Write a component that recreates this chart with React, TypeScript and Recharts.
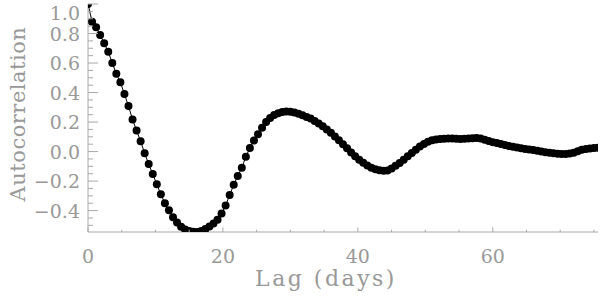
import { LineChart, Line, XAxis, YAxis, Label } from 'recharts';

// sampling cadence of the lag grid (days)
const LAG_STEP = 0.6;

// autocorrelation, one value per lag step starting at 0
const ACF = [
  1.0, 0.88, 0.842, 0.79, 0.734, 0.676, 0.6, 0.527, 0.47, 0.39,
  0.308, 0.218, 0.142, 0.07, -0.012, -0.085, -0.152, -0.222, -0.29, -0.35,
  -0.398, -0.445, -0.48, -0.51, -0.528, -0.538, -0.543, -0.545, -0.538, -0.525,
  -0.508, -0.488, -0.462, -0.42, -0.365, -0.295, -0.225, -0.165, -0.11, -0.035,
  0.025, 0.075, 0.118, 0.162, 0.2, 0.228, 0.248, 0.26, 0.268, 0.272,
  0.27, 0.264, 0.256, 0.246, 0.235, 0.224, 0.208, 0.19, 0.172, 0.15,
  0.128, 0.102, 0.076, 0.05, 0.022, -0.006, -0.032, -0.056, -0.076, -0.095,
  -0.11, -0.12, -0.127, -0.13, -0.128, -0.115, -0.096, -0.077, -0.055, -0.032,
  -0.01, 0.012, 0.035, 0.052, 0.066, 0.076, 0.081, 0.085, 0.087, 0.088,
  0.088, 0.087, 0.086, 0.087, 0.089, 0.091, 0.092, 0.088, 0.08, 0.072,
  0.064, 0.058, 0.052, 0.045, 0.038, 0.032, 0.027, 0.022, 0.018, 0.014,
  0.01, 0.005, 0.0, -0.004, -0.008, -0.012, -0.015, -0.016, -0.016, -0.013,
  -0.008, 0.002, 0.012, 0.018, 0.021, 0.024, 0.026,
];

const X_TICKS = [0, 5, 10, 15, 20, 25, 30, 35, 40, 45, 50, 55, 60, 65, 70, 75];
const X_MAJOR = [0, 20, 40, 60];
const Y_TICKS = [
  -0.5, -0.45, -0.4, -0.35, -0.3, -0.25, -0.2, -0.15, -0.1, -0.05, 0,
  0.05, 0.1, 0.15, 0.2, 0.25, 0.3, 0.35, 0.4, 0.45, 0.5, 0.55, 0.6,
  0.65, 0.7, 0.75, 0.8, 0.85, 0.9, 0.95, 1.0,
];
const Y_MAJOR = [-0.4, -0.2, 0, 0.2, 0.4, 0.6, 0.8, 1.0];

const data = ACF.map((v, i) => ({ lag: +(i * LAG_STEP).toFixed(2), acf: v }));

const AXIS = '#a8a8a8';
const TEXT = '#999999';
const FONT = '"DejaVu Serif", serif';

const isYMajor = (v: number) => Y_MAJOR.some((m) => Math.abs(m - v) < 1e-6);
const fmtY = (v: number) => (v < 0 ? '\u2212' : '') + Math.abs(v).toFixed(1);

const BottomTick = ({ x, y, payload }: any) => {
  const major = X_MAJOR.includes(payload.value);
  return (
    <g>
      <line x1={x} x2={x} y1={y} y2={y - (major ? 4.6 : 2.3)} stroke={AXIS} />
      {major && (
        <text x={x} y={y + 31} textAnchor="middle" fill={TEXT} fontSize={19} fontFamily={FONT}>
          {payload.value}
        </text>
      )}
    </g>
  );
};

const TopTick = ({ x, y, payload }: any) => {
  const major = X_MAJOR.includes(payload.value);
  return <line x1={x} x2={x} y1={y} y2={y + (major ? 4.6 : 2.3)} stroke={AXIS} />;
};

const LeftTick = ({ x, y, payload }: any) => {
  const major = isYMajor(payload.value);
  return (
    <g>
      <line x1={x} x2={x + (major ? 10 : 5)} y1={y} y2={y} stroke={AXIS} />
      {major && (
        <text
          x={x - 8}
          y={Math.max(y, 12.5)}
          textAnchor="end"
          dominantBaseline="central"
          fill={TEXT}
          fontSize={19}
          fontFamily={FONT}
        >
          {fmtY(payload.value)}
        </text>
      )}
    </g>
  );
};

const RightTick = ({ x, y, payload }: any) => {
  const major = isYMajor(payload.value);
  return <line x1={x} x2={x - (major ? 10 : 5)} y1={y} y2={y} stroke={AXIS} />;
};

export default function App() {
  return (
    <div style={{ position: 'absolute', left: 0, top: 0 }}>
      <LineChart width={600} height={296} data={data} margin={{ top: 4, right: 2, left: 0, bottom: 0 }}>
        <XAxis
          dataKey="lag"
          type="number"
          domain={[0, 75.6]}
          allowDataOverflow
          ticks={X_TICKS}
          interval={0}
          height={64}
          tickSize={0}
          tickMargin={0}
          tickLine={false}
          axisLine={{ stroke: AXIS }}
          tick={<BottomTick />}
        >
          <Label
            content={() => (
              <text x={326} y={286} textAnchor="middle" fill={TEXT} fontSize={22} fontFamily={FONT} letterSpacing={2.5}>
                Lag (days)
              </text>
            )}
          />
        </XAxis>
        <XAxis
          xAxisId="top"
          orientation="top"
          dataKey="lag"
          type="number"
          domain={[0, 75.6]}
          allowDataOverflow
          ticks={X_TICKS}
          interval={0}
          height={0}
          tickSize={0}
          tickMargin={0}
          tickLine={false}
          axisLine={{ stroke: AXIS }}
          tick={<TopTick />}
        />
        <YAxis
          type="number"
          domain={[-0.545, 1.0]}
          allowDataOverflow
          ticks={Y_TICKS}
          interval={0}
          width={88}
          tickSize={0}
          tickMargin={0}
          tickLine={false}
          axisLine={{ stroke: AXIS }}
          tick={<LeftTick />}
        >
          <Label
            content={() => (
              <text
                x={18}
                y={114}
                transform="rotate(-90 18 114)"
                textAnchor="middle"
                dominantBaseline="central"
                fill={TEXT}
                fontSize={21}
                fontFamily={FONT}
                letterSpacing={0.5}
              >
                Autocorrelation
              </text>
            )}
          />
        </YAxis>
        <YAxis
          yAxisId="right"
          orientation="right"
          type="number"
          domain={[-0.545, 1.0]}
          allowDataOverflow
          ticks={Y_TICKS}
          interval={0}
          width={0}
          tickSize={0}
          tickMargin={0}
          tickLine={false}
          axisLine={{ stroke: AXIS }}
          tick={<RightTick />}
        />
        <Line
          dataKey="acf"
          stroke="#000"
          strokeWidth={1}
          dot={{ r: 4, fill: '#000', stroke: 'none' }}
          isAnimationActive={false}
        />
      </LineChart>
    </div>
  );
}
